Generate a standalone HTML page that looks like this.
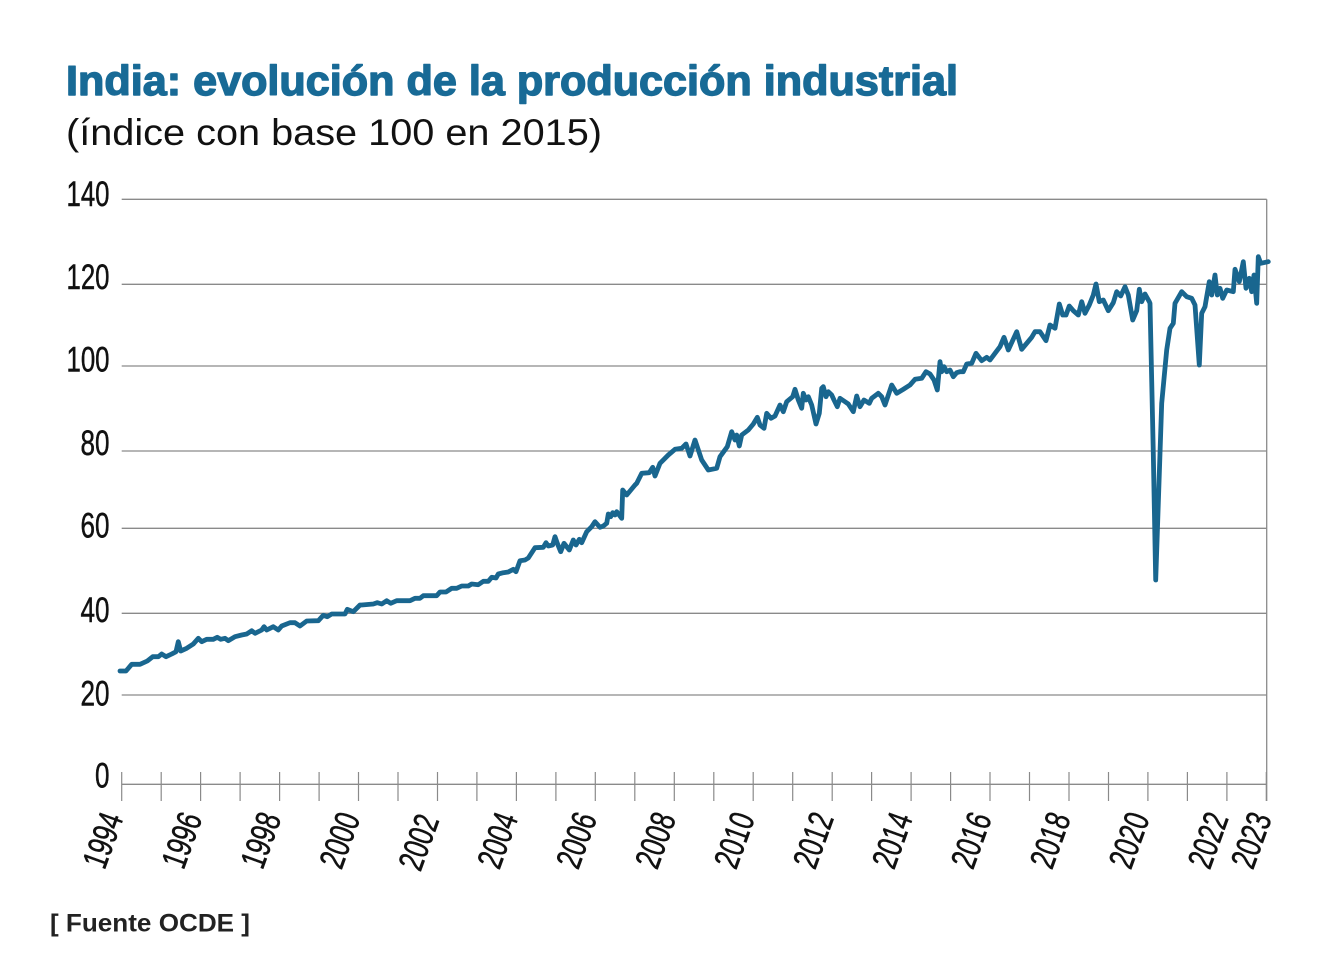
<!DOCTYPE html>
<html>
<head>
<meta charset="utf-8">
<style>
  html, body { margin:0; padding:0; background:#ffffff; }
  svg { display:block; }
  .t { font-family:"Liberation Sans", sans-serif; }
  .lab { font-family:"Liberation Sans Narrow","Liberation Sans", sans-serif; font-size:35px; fill:#111; stroke:#111; stroke-width:0.5; }
</style>
</head>
<body>
<svg width="1330" height="970" viewBox="0 0 1330 970" xmlns="http://www.w3.org/2000/svg">
  <rect x="0" y="0" width="1330" height="970" fill="#ffffff"/>

  <!-- Title -->
  <text class="t" x="66" y="95" font-size="42" font-weight="bold" fill="#186a96" stroke="#186a96" stroke-width="1.4" stroke-linejoin="round" textLength="892" lengthAdjust="spacingAndGlyphs">India: evolución de la producción industrial</text>
  <text class="t" x="66" y="145" font-size="37" fill="#111" textLength="536" lengthAdjust="spacingAndGlyphs">(índice con base 100 en 2015)</text>

  <!-- Gridlines -->
  <g stroke="#8a8a8a" stroke-width="1.3">
    <line x1="121.7" y1="199.3" x2="1266.7" y2="199.3"/>
    <line x1="121.7" y1="284.3" x2="1266.7" y2="284.3"/>
    <line x1="121.7" y1="366" x2="1266.7" y2="366"/>
    <line x1="121.7" y1="451" x2="1266.7" y2="451"/>
    <line x1="121.7" y1="528.3" x2="1266.7" y2="528.3"/>
    <line x1="121.7" y1="613.3" x2="1266.7" y2="613.3"/>
    <line x1="121.7" y1="695" x2="1266.7" y2="695"/>
    <line x1="121.7" y1="784.3" x2="1266.7" y2="784.3"/>
    <line x1="1266.7" y1="199.3" x2="1266.7" y2="801"/>
  </g>

  <!-- Ticks -->
  <g stroke="#8a8a8a" stroke-width="1.2">
    <line x1="121.7" y1="772" x2="121.7" y2="801"/>
    <line x1="161.2" y1="772" x2="161.2" y2="801"/>
    <line x1="200.6" y1="772" x2="200.6" y2="801"/>
    <line x1="240.1" y1="772" x2="240.1" y2="801"/>
    <line x1="279.6" y1="772" x2="279.6" y2="801"/>
    <line x1="319.1" y1="772" x2="319.1" y2="801"/>
    <line x1="358.5" y1="772" x2="358.5" y2="801"/>
    <line x1="398.0" y1="772" x2="398.0" y2="801"/>
    <line x1="437.5" y1="772" x2="437.5" y2="801"/>
    <line x1="476.9" y1="772" x2="476.9" y2="801"/>
    <line x1="516.4" y1="772" x2="516.4" y2="801"/>
    <line x1="555.9" y1="772" x2="555.9" y2="801"/>
    <line x1="595.3" y1="772" x2="595.3" y2="801"/>
    <line x1="634.8" y1="772" x2="634.8" y2="801"/>
    <line x1="674.3" y1="772" x2="674.3" y2="801"/>
    <line x1="713.8" y1="772" x2="713.8" y2="801"/>
    <line x1="753.2" y1="772" x2="753.2" y2="801"/>
    <line x1="792.7" y1="772" x2="792.7" y2="801"/>
    <line x1="832.2" y1="772" x2="832.2" y2="801"/>
    <line x1="871.6" y1="772" x2="871.6" y2="801"/>
    <line x1="911.1" y1="772" x2="911.1" y2="801"/>
    <line x1="950.6" y1="772" x2="950.6" y2="801"/>
    <line x1="990.0" y1="772" x2="990.0" y2="801"/>
    <line x1="1029.5" y1="772" x2="1029.5" y2="801"/>
    <line x1="1069.0" y1="772" x2="1069.0" y2="801"/>
    <line x1="1108.5" y1="772" x2="1108.5" y2="801"/>
    <line x1="1147.9" y1="772" x2="1147.9" y2="801"/>
    <line x1="1187.4" y1="772" x2="1187.4" y2="801"/>
    <line x1="1226.9" y1="772" x2="1226.9" y2="801"/>
    <line x1="1266.3" y1="772" x2="1266.3" y2="801"/>
  </g>

  <!-- Y labels -->
  <g class="lab" text-anchor="end">
    <text x="109.5" y="206" textLength="43" lengthAdjust="spacingAndGlyphs">140</text>
    <text x="109.5" y="289" textLength="43" lengthAdjust="spacingAndGlyphs">120</text>
    <text x="109.5" y="371.5" textLength="43" lengthAdjust="spacingAndGlyphs">100</text>
    <text x="109.5" y="455" textLength="29" lengthAdjust="spacingAndGlyphs">80</text>
    <text x="109.5" y="537.5" textLength="29" lengthAdjust="spacingAndGlyphs">60</text>
    <text x="109.5" y="622" textLength="29" lengthAdjust="spacingAndGlyphs">40</text>
    <text x="109.5" y="705.5" textLength="29" lengthAdjust="spacingAndGlyphs">20</text>
    <text x="109.5" y="787.5" textLength="14.5" lengthAdjust="spacingAndGlyphs">0</text>
  </g>

  <!-- X labels -->
  <g class="lab" text-anchor="end">
    <text transform="translate(123.7,818) rotate(-70)" textLength="56" lengthAdjust="spacingAndGlyphs">1994</text>
    <text transform="translate(202.6,818) rotate(-70)" textLength="56" lengthAdjust="spacingAndGlyphs">1996</text>
    <text transform="translate(281.6,818) rotate(-70)" textLength="56" lengthAdjust="spacingAndGlyphs">1998</text>
    <text transform="translate(360.5,818) rotate(-70)" textLength="56" lengthAdjust="spacingAndGlyphs">2000</text>
    <text transform="translate(439.5,820) rotate(-70)" textLength="56" lengthAdjust="spacingAndGlyphs">2002</text>
    <text transform="translate(518.4,818) rotate(-70)" textLength="56" lengthAdjust="spacingAndGlyphs">2004</text>
    <text transform="translate(597.3,818) rotate(-70)" textLength="56" lengthAdjust="spacingAndGlyphs">2006</text>
    <text transform="translate(676.3,818) rotate(-70)" textLength="56" lengthAdjust="spacingAndGlyphs">2008</text>
    <text transform="translate(755.2,818) rotate(-70)" textLength="56" lengthAdjust="spacingAndGlyphs">2010</text>
    <text transform="translate(834.2,818) rotate(-70)" textLength="56" lengthAdjust="spacingAndGlyphs">2012</text>
    <text transform="translate(913.1,818) rotate(-70)" textLength="56" lengthAdjust="spacingAndGlyphs">2014</text>
    <text transform="translate(992.0,818) rotate(-70)" textLength="56" lengthAdjust="spacingAndGlyphs">2016</text>
    <text transform="translate(1071.0,818) rotate(-70)" textLength="56" lengthAdjust="spacingAndGlyphs">2018</text>
    <text transform="translate(1149.9,818) rotate(-70)" textLength="56" lengthAdjust="spacingAndGlyphs">2020</text>
    <text transform="translate(1228.9,818) rotate(-70)" textLength="56" lengthAdjust="spacingAndGlyphs">2022</text>
    <text transform="translate(1272,818) rotate(-70)" textLength="56" lengthAdjust="spacingAndGlyphs">2023</text>
  </g>

  <!-- Series -->
  <polyline fill="none" stroke="#19668f" stroke-width="4.8" stroke-linejoin="round" stroke-linecap="round" points="
120,671 126,671 131.7,664.3 140,664.3 147.3,661 152.7,656.7 158.3,656.7 161.7,654 166,656.7 171.7,654 176,651.7 178.3,641.7 180.7,651 186.7,648.3 193.3,644 198.3,638.3 201.7,641.7 206.7,639.3 213.3,639.3 217.3,637.3 220.7,639.3 225,638.3 228.3,640.7 235,636.7 241.7,635 246.7,634 251.7,630.7 255,633.3 261.7,630 264,626.7 266.7,630 273.3,626.7 278.3,630 281.7,626 290,622.7 295,622.7 300,626 306.7,621 318.3,620.7 323.3,615.3 327.3,616.7 331.7,614 345,614 347.3,609.3 353.3,611.7 360,605
361.7,605 373.3,604 377.3,602.7 381.7,604 386.7,600.7 390.7,603.3 396.7,600.7 410,600.7 415,598.3 420,598.3 423.3,595.7 436.7,595.7 440,592 446,592 451.7,588.3 456.7,588.3 461.7,586 468.3,586 471.7,584 478.3,584.7 483.3,581.3 488.3,581.3 491.7,577.3 496,578 498.3,574 503.3,572.7 508.3,572 513.3,569.3 516,571.7 520,560.7 525,560 528.3,558 535,547.7 543.3,547.3 546,542.7 548.3,546 552.7,545 555,536.7 557.3,543.3 560.7,551.7 564,543.3 569.3,550 573.3,540 576,545 579.3,539.3 581.7,542.7 586.7,531.7 591.7,526.7 595,521.7 600,527.3 603.3,526 606.7,523.3 608.3,514 610.7,516.7 612.7,512.7 615,515 616.7,511.7 621.7,518.3 622.7,490 626.7,495 635,485 636.7,483.3 641.7,473.3 649.3,472.7 652.7,467.3 655,476 660,463.3
668.3,455 675,449.3 681.7,448.3 686,444 690,456 695,440 701.7,460 708.3,470 716.7,468.3 720,456.7 727.3,446.7 731.7,431.7 735,440 736.7,435 739.3,446 741.7,435 748.3,430 753.3,424 757.3,417.3 760,425 764,428.3 766.7,413.3 771,418.3 775,416 780,405 783.3,411.7 786.7,401.7 792.7,396.7 795,389.3 798.3,400 801.7,408.3 803.3,393.3 806,400 808.3,396.7 811.7,405 816,424 819.3,413.3 821.7,388.3 823.3,386.7 826,396.7 828.3,391.7 831.7,395 834,400 837.3,406.7 840,398.3 845,401.7 848.3,404 853.3,411.7 856.7,396 860,406.7 864,400 869.3,403.3 871.7,398.3 878.3,393.3 881.7,396.7 885,405 891.7,385 896.7,393.3 903.3,389.3 910,385 915,379.3 921.7,378.3 926,371.7 930,374 934,380 937.3,390 940,361.7 941.7,371.7 944,366.7 946.7,371.7 950,370 953.3,376.7 956.7,372.7 960,371.7
963.3,371.7 966.7,364 971.7,363.3 976,353.3 981.7,360.7 986.7,357.3 990,360 995,353.3 1000,346.7 1004,337.3 1008.3,350 1016.7,331.7 1021.7,349.3 1026.7,343.3 1031.7,337.3 1035,331.7 1040,331.7 1046,340.7 1050,325 1055,328.3 1059.3,304 1062.7,315 1066,315 1069.3,306 1073.3,310.7 1078.3,315 1081.7,301.7 1085,313.3 1089.3,305 1093.3,295 1096,284 1099.3,301.7 1103.3,300 1108.3,310.7 1113.3,302.7 1116.7,291.7 1120.7,296 1125,286.7 1128.3,295 1132.7,320 1136.7,310.7 1139.3,289.3 1141.7,301.7 1145,294 1149.3,301.7 1150,303.3
1153.3,453.3 1155.7,580 1160,453.3 1161.7,403.3 1166.7,350 1170,328.3 1173.3,323.3 1175,303.3 1181.7,291.7 1186.7,296.7 1191.7,298.3 1195,305 1199.3,365 1201.7,313.3 1205,306.7 1206.7,296.7 1209.3,281.7 1211.7,295 1215,275 1217.3,295 1220,288.3 1222.7,298.3 1226.7,290 1233.3,291.7 1235,269.3 1239.3,281.7 1243.3,261.7 1246,288.3 1249.3,278.3 1251.7,291.7 1254,275 1256.7,303.3 1258.3,256.7 1260.7,263.3 1268.3,261.7"/>

  <!-- Source -->
  <text class="t" x="50" y="931.5" font-size="25" font-weight="bold" fill="#222" textLength="200" lengthAdjust="spacingAndGlyphs">[ Fuente OCDE ]</text>
</svg>
</body>
</html>
